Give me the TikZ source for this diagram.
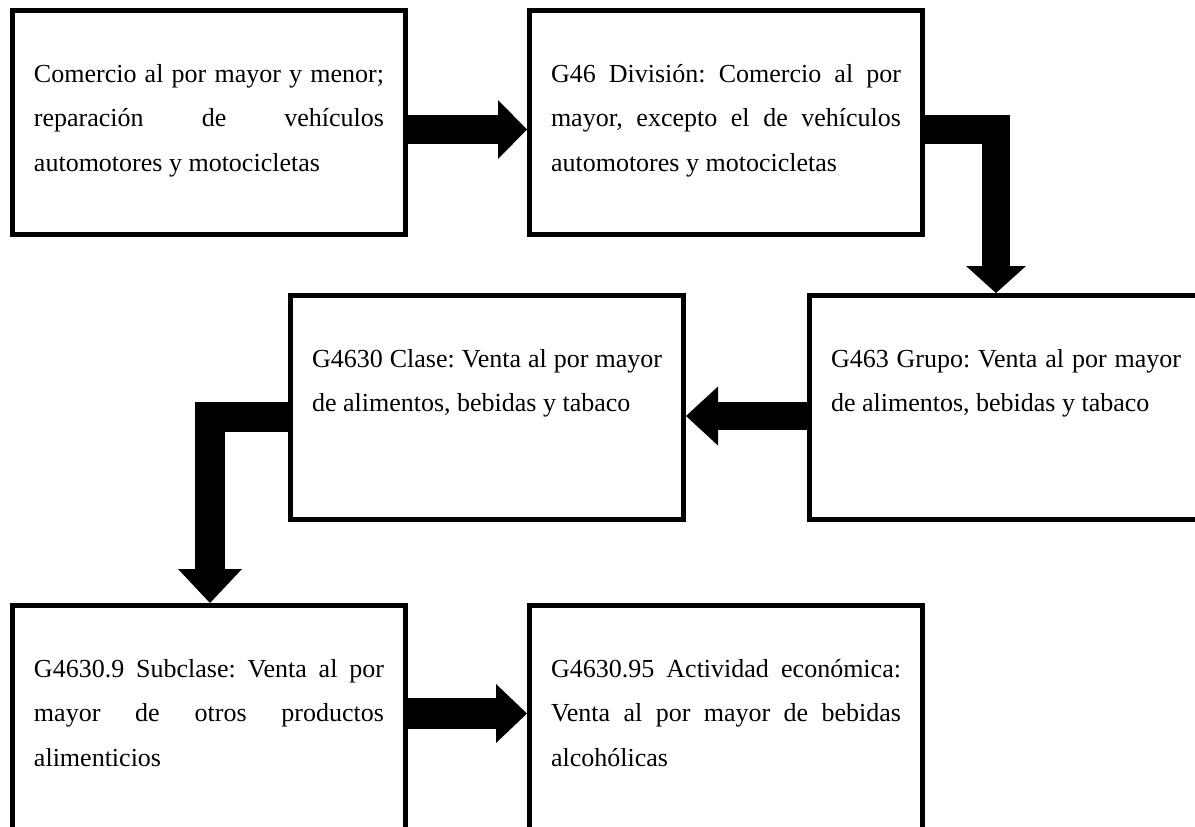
\documentclass[tikz,border=0pt]{standalone}
\usepackage{fontspec}
\setmainfont{Liberation Serif}
\usetikzlibrary{calc}
\frenchspacing
\newcommand{\boxtext}[1]{\parbox[c][224pt][t]{350pt}{\frenchspacing\hyphenpenalty=10000\exhyphenpenalty=10000\rule{0pt}{71.5pt}#1}}
\tikzset{
  box/.style={draw, line width=5pt, outer sep=2.5pt, inner xsep=21.5pt, inner ysep=0pt,
    anchor=north west, font=\fontsize{26}{44.5}\selectfont},
  shaft/.style={draw, line cap=butt, line join=miter},
}
\begin{document}
\begin{tikzpicture}[x=1pt,y=-1pt]
\useasboundingbox (0,0) rectangle (1195,827);
\fill[white] (0,0) rectangle (1195,827);
\clip (0,0) rectangle (1195,827);

\node[box] (b1) at (10,8) {\boxtext{Comercio al por mayor y menor;\linebreak reparación de vehículos\linebreak automotores y motocicletas}};
\node[box] (b2) at (527,8) {\boxtext{G46 División: Comercio al por\linebreak mayor, excepto el de vehículos\linebreak automotores y motocicletas}};
\node[box] (b3) at (807,293) {\boxtext{G463 Grupo: Venta al por mayor\linebreak de alimentos, bebidas y tabaco}};
\node[box] (b4) at (288,293) {\boxtext{G4630 Clase: Venta al por mayor\linebreak de alimentos, bebidas y tabaco}};
\node[box] (b5) at (10,603) {\boxtext{G4630.9 Subclase: Venta al por\linebreak mayor de otros productos\linebreak alimenticios}};
\node[box] (b6) at (527,603) {\boxtext{G4630.95 Actividad económica:\linebreak Venta al por mayor de bebidas\linebreak alcohólicas}};

% reference lines
\coordinate (y1) at (0,129.5);
\coordinate (x2) at (996,0);
\coordinate (y3) at (0,416);
\coordinate (y4) at (0,417);
\coordinate (x4) at (210,0);
\coordinate (y5) at (0,713.5);

% arrow 1
\coordinate (a1s) at (b1.east |- y1);
\coordinate (a1e) at (b2.west |- y1);
\draw[shaft, line width=29pt] (a1s) -- ($(a1e)+(-29,0)$);
\fill ($(a1e)+(-29,29.5)$) -- (a1e) -- ($(a1e)+(-29,-29.5)$) -- cycle;

% arrow 2
\coordinate (a2s) at (b2.east |- y1);
\coordinate (a2e) at (x2 |- b3.north);
\draw[shaft, line width=28.5pt] (a2s) -| ($(a2e)+(0,-27)$);
\fill ($(a2e)+(-30,-27)$) -- (a2e) -- ($(a2e)+(30,-27)$) -- cycle;

% arrow 3
\coordinate (a3s) at (b3.west |- y3);
\coordinate (a3e) at (b4.east |- y3);
\draw[shaft, line width=28.5pt] (a3s) -- ($(a3e)+(32,0)$);
\fill ($(a3e)+(32,29.5)$) -- (a3e) -- ($(a3e)+(32,-29.5)$) -- cycle;

% arrow 4
\coordinate (a4s) at (b4.west |- y4);
\coordinate (a4e) at (x4 |- b5.north);
\draw[shaft, line width=30pt] (a4s) -| ($(a4e)+(0,-34)$);
\fill ($(a4e)+(-32,-34)$) -- (a4e) -- ($(a4e)+(32,-34)$) -- cycle;

% arrow 5
\coordinate (a5s) at (b5.east |- y5);
\coordinate (a5e) at (b6.west |- y5);
\draw[shaft, line width=31pt] (a5s) -- ($(a5e)+(-31,0)$);
\fill ($(a5e)+(-31,29.5)$) -- (a5e) -- ($(a5e)+(-31,-29.5)$) -- cycle;
\end{tikzpicture}
\end{document}
